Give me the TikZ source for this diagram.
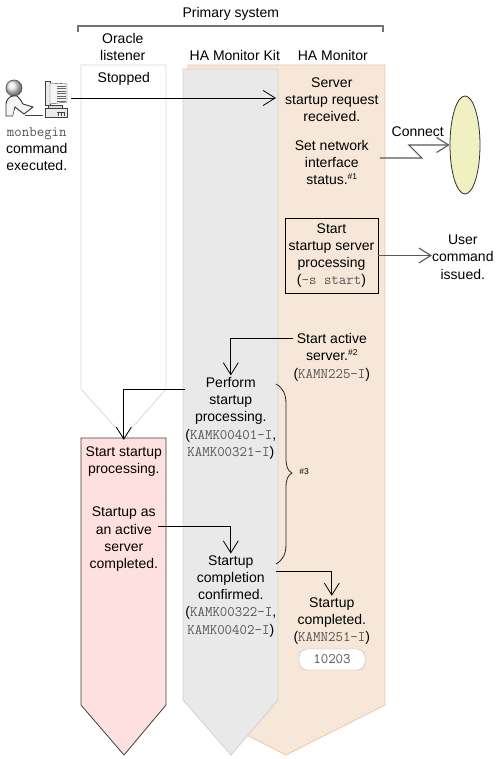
\documentclass[tikz,border=0pt]{standalone}
\usepackage{fontspec}
\setmainfont{Liberation Sans}
\usetikzlibrary{arrows.meta, positioning, calc, shapes.geometric}

% Message ids and commands are set in a thin typewriter face
\newcommand{\msgid}[1]{{\fontsize{14.5}{17.2}\selectfont\ttfamily\color{codegray}#1}}
\newcommand{\noteref}[1]{\raisebox{5pt}{\fontsize{8.5}{8.5}\selectfont #1}}
\definecolor{codegray}{HTML}{555555}
\definecolor{hafill}{HTML}{F6E7D8}
\definecolor{haedge}{HTML}{EBC8A6}
\definecolor{kitfill}{HTML}{E9E9E9}
\definecolor{kitedge}{HTML}{D2D2D2}
\definecolor{dbfill}{HTML}{FFE0E0}
\definecolor{nodefill}{HTML}{F0F0C0}

\begin{document}
\begin{tikzpicture}[
    x=1pt, y=-1pt, % Work in pixels of the page, y going down
    >={Straight Barb[length=12pt, width=15pt]},
    txt/.style={align=center, inner sep=0pt, xshift=0.8pt, yshift=-1.7pt, font=\fontsize{14}{17.2}\selectfont},
    flow/.style={->, line width=0.8pt, black},
    heavyflow/.style={->, line width=1.1pt, black!65},
    lane/.style={line width=0.8pt, line join=miter}
]

    % Page
    \useasboundingbox (0,0) rectangle (501,759);
    \fill[white] (0,0) rectangle (501,759);

    % Lanes
    \draw[lane, fill=white, draw=black!15] (81,65) -- (166,65) -- (166,389) -- (124,437) -- (81,389) -- cycle;
    \draw[lane, fill=hafill, draw=haedge] (188,65) -- (385,65) -- (385,705) -- (286,755) -- (188,705) -- cycle;
    \draw[lane, fill=kitfill, draw=kitedge] (183,69) -- (278,69) -- (278,700) -- (231,755) -- (183,700) -- cycle;
    \draw[lane, fill=dbfill, draw=black!75] (81,438) -- (166,438) -- (166,705) -- (124,755) -- (81,705) -- cycle;

    % Primary system bracket
    \draw[line width=1.2pt, black!55] (78,32) -- (78,26) -- (383,26) -- (383,32);
    \node[txt] (primary) at (230,12) {Primary system};
    \node[txt] (oracle) at (122,45.5) {Oracle\\listener};
    \node[txt] (kit) at (234,54) {HA Monitor Kit};
    \node[txt] (monitor) at (332,54) {HA Monitor};
    \node[txt] (stopped) at (123,77) {Stopped};

    % Operator at the terminal
    \shade[ball color=black!8] (14,88) circle (8);
    \draw[black!65, line width=0.7pt] (14,88) circle (8);
    \draw[black!80, line width=0.9pt, fill=black!4] (6,116) -- (6,104) .. controls (7,97) and (12,95) .. (17,96)
        .. controls (20,98) and (21,101) .. (23,104) -- (33,107) -- (24,114) -- (15,107) -- (13,116) -- cycle;
    \fill[white] (13,116) -- (15,109) -- (22,116) -- cycle;
    \draw[black!75, line width=1pt] (25,116) -- (43,116);
    \draw[black!75, fill=black!8] (45,81) -- (50,81) -- (50,105) -- (45,105) -- cycle;
    \draw[black!75, fill=black!4] (50,83) -- (67,84) -- (67,102) -- (50,104) -- cycle;
    \foreach \ystep in {86,88.5,...,101}
        \draw[black!60, line width=0.7pt] (57,\ystep) -- (66,\ystep);
    \draw[black!75, fill=black!15] (48,105) -- (62,105) -- (62,108) -- (48,108) -- cycle;
    \draw[black!75, fill=black!8] (45,108) -- (67,108) -- (67,117) -- (45,117) -- cycle;
    \draw[black!75, line width=0.7pt] (57,112) -- (65,112) (58,112) -- (58,116) (61,112) -- (61,116) (64,112) -- (64,116);
    \coordinate (terminal) at (71,98);
    \node[txt] (monbegin) at (36,147.5) {\msgid{monbegin}\\command\\executed.};

    % HA Monitor column
    \node[txt] (request) at (331,98) {Server\\startup request\\received.};
    \node[txt] (setnif) at (331,161) {Set network\\interface\\status.\noteref{\#1}};
    \node[txt, draw, line width=0.9pt, minimum width=93pt, minimum height=75pt, xshift=-0.8pt, yshift=1.7pt] (startbox) at (331.5,255.5)
        {Start\\startup server\\processing\\(\msgid{-s start})};
    \node[txt] (active) at (331,355.5) {Start active\\server.\noteref{\#2}\\(\msgid{KAMN225-I})};
    \node[txt] (done) at (331,619.5) {Startup\\completed.\\(\msgid{KAMN251-I})};
    \node[draw=black!30, fill=white, rounded corners=8pt, minimum width=66pt, minimum height=21pt, inner sep=0pt] (code) at (332,659.5)
        {\msgid{10203}};

    % HA Monitor Kit column
    \node[txt] (perform) at (230,416.5) {Perform\\startup\\processing.\\(\msgid{KAMK00401-I},\\\msgid{KAMK00321-I})};
    \node[txt] (confirm) at (230,594.5) {Startup\\completion\\confirmed.\\(\msgid{KAMK00322-I},\\\msgid{KAMK00402-I})};

    % Oracle column
    \node[txt] (starting) at (123,460) {Start startup\\processing.};
    \node[txt] (asactive) at (123,537.5) {Startup as\\an active\\server\\completed.};

    % Outside the system
    \node[draw=black!80, fill=nodefill, ellipse, minimum width=30pt, minimum height=98pt, inner sep=0pt, line width=0.8pt] (network) at (465,145) {};
    \node[txt] (connect) at (417,130) {Connect};
    \node[txt] (user) at (462,255.5) {User\\command\\issued.};

    % Connectors
    \draw[flow] (terminal) -- ([xshift=-9pt, yshift=1.7pt]request.west);
    \draw[heavyflow] ([xshift=11pt, yshift=4.7pt]setnif.east) -- ++(42,0) -- ++(-13,-13) -- (network.west);
    \draw[heavyflow] (startbox.east) -- ([yshift=1.7pt]user.west);
    \draw[flow] ([yshift=19pt]active.west) -| ([yshift=1.7pt]perform.north);
    \draw[flow] ([yshift=29pt]perform.west) -| ([yshift=6.7pt]starting.north);
    \draw[flow] ([yshift=13pt]asactive.east) -| ([yshift=1.7pt]confirm.north);
    \draw[flow] ([yshift=25pt]confirm.east) -| ([yshift=1.7pt]done.north);

    % Brace over the startup span
    \draw[line width=0.8pt, black!85] (276,384) .. controls (283,388) and (286,394) .. (286,404)
        -- (286,458) .. controls (286,467) and (288,471) .. (292,473)
        .. controls (288,475) and (286,479) .. (286,488)
        -- (286,544) .. controls (286,554) and (283,560) .. (276,564);
    \node[inner sep=0pt, font=\fontsize{8.5}{8.5}\selectfont] (spannote) at (304,472) {\#3};

\end{tikzpicture}
\end{document}
